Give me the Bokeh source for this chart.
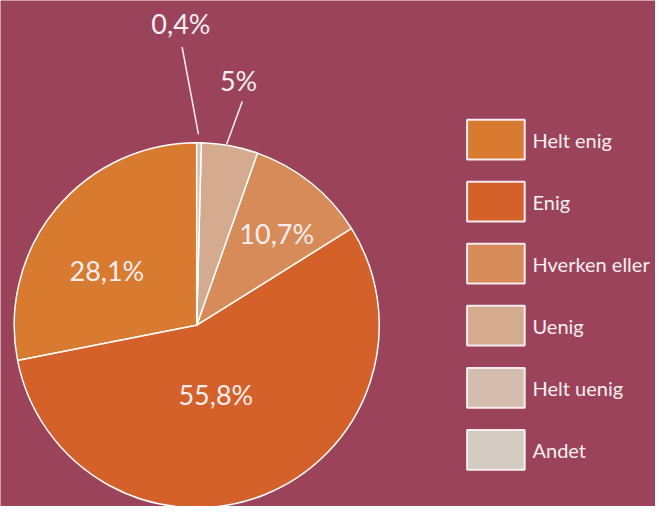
import math
from bokeh.plotting import figure
from bokeh.models import Range1d, ColumnDataSource
from bokeh.core.properties import value
from bokeh.embed import file_html
from bokeh.resources import INLINE

# ---- data ----
categories = ["Helt enig", "Enig", "Hverken eller", "Uenig", "Helt uenig", "Andet"]
shares = [28.1, 55.8, 10.7, 5.0, 0.4, 0.0]
labels = ["28,1%", "55,8%", "10,7%", "5%", "0,4%", ""]
palette = ["#D97A31", "#D4612A", "#D68B58", "#D5AB8F", "#D5BDAD", "#D4CBC2"]

BG = "#9B435A"
TXT = "#F6EEF0"
FONT = "Lato"

W, H = 655, 506
p = figure(width=W, height=H, output_backend="svg", toolbar_location=None,
           x_range=Range1d(0, 671), y_range=Range1d(0, 522),
           min_border=0)
p.axis.visible = False
p.grid.visible = False
p.outline_line_color = None
p.background_fill_color = BG
p.border_fill_color = BG

# pie geometry (layout)
cx, cy, R = 201, 187, 187
total = sum(shares)
starts, ends, mids = [], [], []
a = math.pi / 2
for s in shares:
    da = 2 * math.pi * s / total
    starts.append(a)
    ends.append(a + da)
    mids.append(a + da / 2)
    a += da

keep = [i for i, s in enumerate(shares) if s > 0]
src = ColumnDataSource(dict(start=[starts[i] for i in keep],
                            end=[ends[i] for i in keep],
                            color=[palette[i] for i in keep],
                            cat=[categories[i] for i in keep]))
p.wedge(x=cx, y=cy, radius=R, start_angle="start", end_angle="end",
        direction="anticlock", fill_color="color", line_color="white",
        line_width=1.5, source=src)

# label placement (layout): radius factor and angle offset (deg) per slice
lab_r = [0.576, 0.394, 0.671, 1.369, 1.665, 0]
lab_da = [8.1, -6.2, -2.1, 0.8, 3.7, 0]
lx, ly, lt = [], [], []
for i, t in enumerate(labels):
    if not t:
        continue
    ang = mids[i] + math.radians(lab_da[i])
    lx.append(cx + R * lab_r[i] * math.cos(ang))
    ly.append(cy + R * lab_r[i] * math.sin(ang))
    lt.append(t)
p.text(x=lx, y=ly, text=lt, text_align="center", text_baseline="middle",
       text_color=TXT, text_font=value(FONT), text_font_size="27px")

# leader lines for the small slices (layout)
leaders = {3: (1.013, 1.260, 1.1, -1.0), 4: (1.053, 1.537, 0.2, 3.7)}
xs, ys = [], []
for i, (r0, r1, d0, d1) in leaders.items():
    a0 = mids[i] + math.radians(d0)
    a1 = mids[i] + math.radians(d1)
    xs.append([cx + R * r0 * math.cos(a0), cx + R * r1 * math.cos(a1)])
    ys.append([cy + R * r0 * math.sin(a0), cy + R * r1 * math.sin(a1)])
p.multi_line(xs=xs, ys=ys, line_color=TXT, line_width=1.5)

# legend (layout)
bx, by0, bstep, bw, bh = 507.5, 378.5, 64, 59, 41
bys = [by0 - i * bstep for i in range(len(categories))]
p.rect(x=[bx] * len(categories), y=bys, width=bw, height=bh,
       fill_color=palette, line_color="#F4ECEE", line_width=2)
p.text(x=[545] * len(categories), y=bys, text=categories, text_align="left",
       text_baseline="middle", text_color=TXT, text_font=value(FONT),
       text_font_size="20px")

html = file_html(p, INLINE)
html = html.replace("<body>", '<body style="background-color:%s;">' % BG, 1)
open("out.html", "w").write(html)
